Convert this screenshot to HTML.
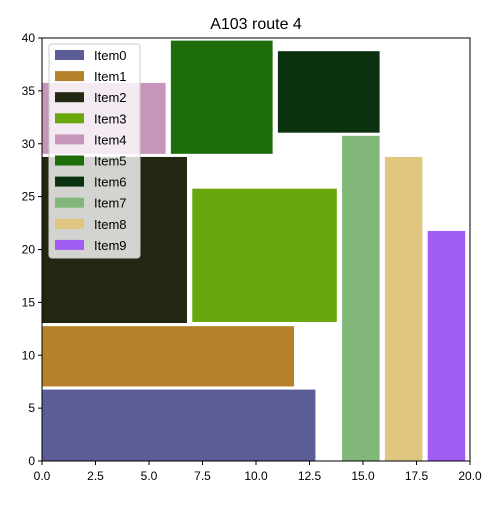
<!DOCTYPE html>
<html><head><meta charset="utf-8"><style>
body{margin:0;background:#fff}
svg{font-family:"Liberation Sans","DejaVu Sans",sans-serif}
</style></head><body>
<svg id="chart" width="500" height="500">
<text x="256" y="29" text-anchor="middle" font-size="16">A103 route 4</text>
<g id="bars"></g>
<rect x="42" y="38" width="428" height="423" fill="none" stroke="#000" stroke-width="1"/>
<g id="axes"></g>
<g id="legend"></g>
</svg>
<script>
const names=["Item0","Item1","Item2","Item3","Item4","Item5","Item6","Item7","Item8","Item9"];
const x0s=[0,0,0,7,0,6,11,14,16,18];
const x1s=[12.8,11.8,6.8,13.8,5.8,10.8,15.8,15.8,17.8,19.8];
const y0s=[0,7,13,13.1,29,29,31,0,0,0];
const y1s=[6.8,12.8,28.8,25.8,35.8,39.8,38.8,30.8,28.8,21.8];
const colors=["#5c5c96","#b5822a","#232711","#68a80d","#c895ba","#1e6d0b","#0b320f","#82b77a","#e0c67f","#a05cf5"];
const xTicks=[0,2.5,5,7.5,10,12.5,15,17.5,20];
const yTicks=[0,5,10,15,20,25,30,35,40];
const NS="http://www.w3.org/2000/svg";
const X=v=>42+v*428/20, Y=v=>461-v*423/40;
function mk(t,a,p){const e=document.createElementNS(NS,t);for(const k in a)e.setAttribute(k,a[k]);p.appendChild(e);return e;}
const bars=document.getElementById('bars');
names.forEach((n,i)=>{
 const r=mk('rect',{x:X(x0s[i]),y:Y(y1s[i]),width:X(x1s[i])-X(x0s[i]),height:Y(y0s[i])-Y(y1s[i]),fill:colors[i],stroke:'#fff','stroke-width':1},bars);
 
 
});
const ax=document.getElementById('axes');
xTicks.forEach(t=>{
 const l=mk('line',{x1:X(t),x2:X(t),y1:461,y2:465,stroke:'#000'},ax);
 
 const s=mk('text',{x:X(t),y:480,'text-anchor':'middle','font-size':12},ax);s.textContent=t.toFixed(1);
 
});
yTicks.forEach(t=>{
 const l=mk('line',{x1:38,x2:42,y1:Y(t),y2:Y(t),stroke:'#000'},ax);
 
 const s=mk('text',{x:35,y:Y(t)+4,'text-anchor':'end','font-size':12},ax);s.textContent=t;
 
});
const lg=document.getElementById('legend');
const bx=mk('rect',{x:49,y:44,width:91,height:214,rx:3,fill:'#fff','fill-opacity':0.8,stroke:'#ccc'},lg);

names.forEach((n,i)=>{
 const y=50+i*21.1;
 const p=mk('rect',{x:55,y:y,width:29,height:10,fill:colors[i]},lg);
 
 const s=mk('text',{x:94,y:y+10,'font-size':13},lg);s.textContent=n;
 
});
</script>
</body></html>
